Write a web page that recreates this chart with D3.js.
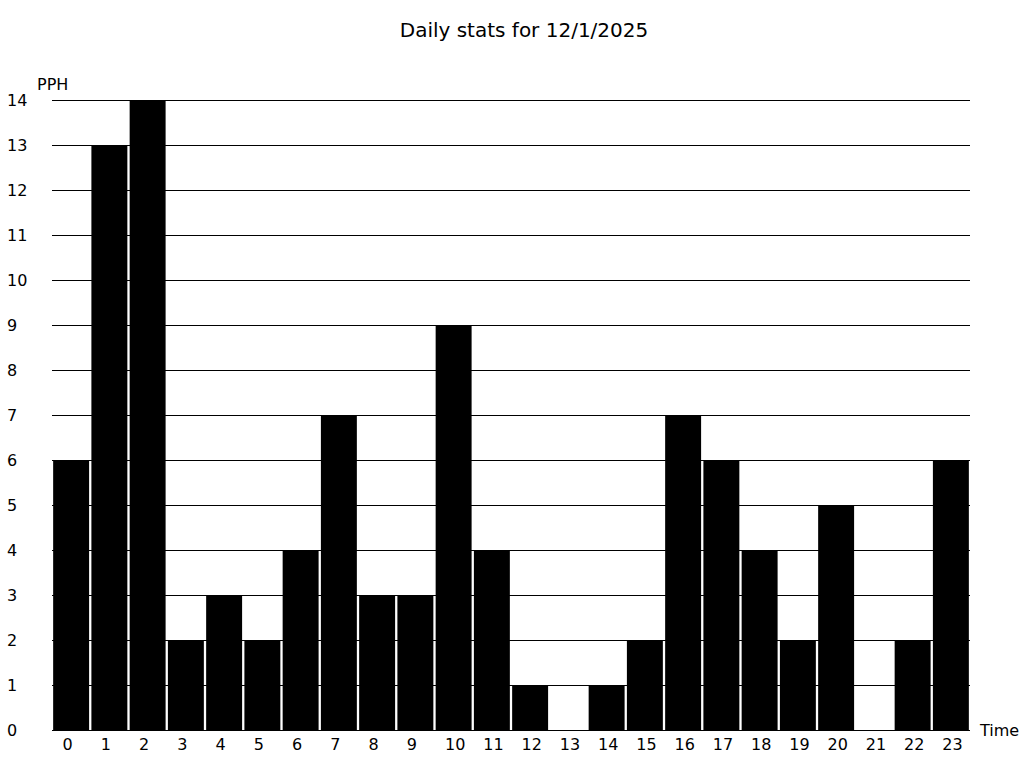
<!DOCTYPE html>
<html><head><meta charset="utf-8">
<script src="https://cdn.jsdelivr.net/npm/d3@7"></script>
<style>body{margin:0;background:#fff}svg{display:block;font-family:"DejaVu Sans",sans-serif}</style>
</head><body><svg id="c" width="1024" height="768"></svg>
<script>
const hours = d3.range(0, 24).map(String);
const pph = [6,13,14,2,3,2,4,7,3,3,9,4,1,0,1,2,7,6,4,2,5,0,2,6];
const yTicks = d3.range(0, 15);
const title = "Daily stats for 12/1/2025";
const yLabel = "PPH";
const xLabel = "Time";

(function () {
const svg = d3.select("#c");
const mLeft = 52, mRight = 970, mTop = 100, mBottom = 730;
const x = d3.scaleBand().domain(hours).range([mLeft, mRight]).paddingInner(0.06).paddingOuter(0.03);
const y = d3.scaleLinear().domain([0, 14]).range([mBottom, mTop]);

svg.append("text").attr("x", 524).attr("y", 37).attr("text-anchor", "middle")
  .attr("font-size", 20).text(title);

svg.append("g").selectAll("line").data(yTicks).join("line")
  .attr("x1", mLeft).attr("x2", mRight)
  .attr("y1", d => Math.round(y(d)) + 0.5).attr("y2", d => Math.round(y(d)) + 0.5)
  .attr("stroke", "#000").attr("stroke-width", 1);

svg.append("g").selectAll("text").data(yTicks).join("text")
  .attr("x", 7).attr("y", d => y(d)).attr("dy", "0.35em")
  .attr("font-size", 16).text(d => d);

svg.append("text").attr("x", 37).attr("y", 90).attr("font-size", 16).text(yLabel);

svg.append("g").selectAll("rect").data(pph).join("rect")
  .attr("x", (d, i) => x(hours[i])).attr("width", x.bandwidth())
  .attr("y", d => y(d)).attr("height", d => y(0) - y(d))
  .attr("fill", "#000");

svg.append("g").selectAll("text").data(hours).join("text")
  .attr("x", d => x(d) - x.step() * x.paddingInner() / 2 + 10.5)
  .attr("y", 750).attr("font-size", 16).text(d => d);

svg.append("text").attr("x", 980).attr("y", 736).attr("font-size", 16).text(xLabel);
})();
</script></body></html>
